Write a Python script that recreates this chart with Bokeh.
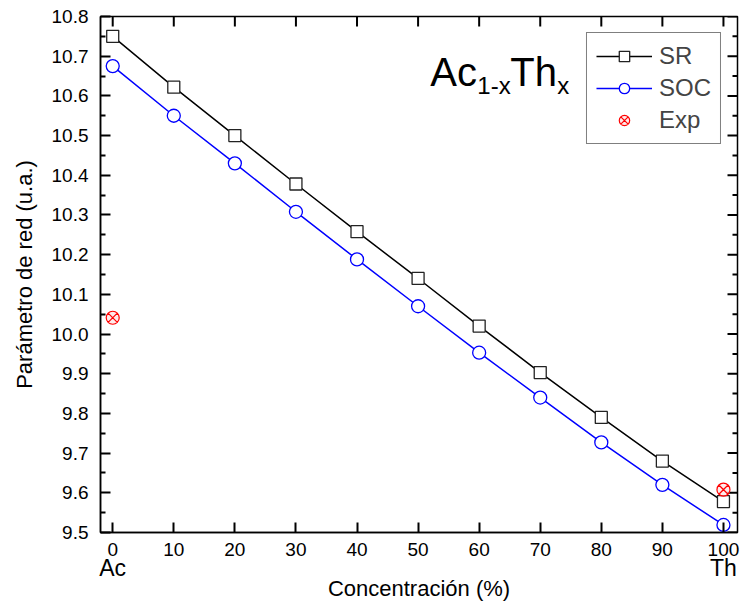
from bokeh.plotting import figure
from bokeh.models import (LinearAxis, FixedTicker, NumeralTickFormatter,
                          Legend, LegendItem, Range1d, ColumnDataSource)
from bokeh.core.properties import value
from bokeh.embed import file_html
from bokeh.resources import INLINE

# ---- data ----
conc = [0, 10, 20, 30, 40, 50, 60, 70, 80, 90, 100]
sr = [10.750, 10.622, 10.500, 10.378, 10.258, 10.140, 10.020, 9.903, 9.790, 9.680, 9.578]
soc = [10.675, 10.550, 10.430, 10.308, 10.188, 10.070, 9.953, 9.840, 9.727, 9.620, 9.519]
exp_x = [0, 100]
exp_y = [10.041, 9.608]
x_ticks = [0, 10, 20, 30, 40, 50, 60, 70, 80, 90, 100]
y_ticks = [9.5, 9.6, 9.7, 9.8, 9.9, 10.0, 10.1, 10.2, 10.3, 10.4, 10.5, 10.6, 10.7, 10.8]
elem_ticks = {0: "Ac", 100: "Th"}

FONT = "Liberation Sans"
X0, X1 = -2, 102.3
Y0, Y1 = 9.5, 10.8
W, H = 740, 607
BL, BR, BT, BB = 100, 3, 16, 75
FW, FH = W - BL - BR, H - BT - BB   # frame size in px

y_minor = [(a + b) / 2 for a, b in zip(y_ticks[:-1], y_ticks[1:])]

p = figure(width=W, height=H, output_backend="svg", toolbar_location=None,
           x_range=Range1d(X0, X1), y_range=Range1d(Y0, Y1),
           min_border_left=BL, min_border_right=BR, min_border_top=BT, min_border_bottom=BB)
p.grid.visible = False
p.outline_line_color = "black"
p.outline_line_width = 1.5

def style_axis(ax):
    ax.axis_line_width = 1.5
    ax.axis_line_color = "black"
    ax.major_tick_line_color = "black"
    ax.minor_tick_line_color = "black"
    ax.major_tick_line_width = 2
    ax.minor_tick_line_width = 2
    ax.major_tick_in = 10
    ax.major_tick_out = 0
    ax.minor_tick_in = 5
    ax.minor_tick_out = 0
    ax.major_label_text_font = FONT
    ax.major_label_text_font_size = "19px"
    ax.major_label_text_color = "black"

# bottom x axis (default axis)
xb = p.xaxis[0]
xb.ticker = FixedTicker(ticks=x_ticks)
style_axis(xb)
xb.major_label_standoff = 10

# left y axis (default axis)
yl = p.yaxis[0]
yl.ticker = FixedTicker(ticks=y_ticks, minor_ticks=y_minor)
yl.formatter = NumeralTickFormatter(format="0.0")
style_axis(yl)
yl.major_label_standoff = 12
yl.axis_label = "Parámetro de red (u.a.)"
yl.axis_label_text_font = FONT
yl.axis_label_text_font_size = "22px"
yl.axis_label_text_font_style = "normal"
yl.axis_label_text_color = "black"
yl.axis_label_standoff = 12

# second bottom axis for element names + label
xb2 = LinearAxis(ticker=FixedTicker(ticks=list(elem_ticks.keys())),
                 major_label_overrides=elem_ticks)
xb2.axis_line_color = None
xb2.major_tick_line_color = None
xb2.minor_tick_line_color = None
xb2.major_tick_in = 0
xb2.major_tick_out = 0
xb2.major_label_text_font = FONT
xb2.major_label_text_font_size = "23px"
xb2.major_label_text_color = "black"
xb2.major_label_standoff = -4
xb2.axis_label = "Concentración (%)"
xb2.axis_label_text_font = FONT
xb2.axis_label_text_font_size = "22px"
xb2.axis_label_text_font_style = "normal"
xb2.axis_label_text_color = "black"
xb2.axis_label_standoff = -8
p.add_layout(xb2, "below")

# inward ticks on top and right sides (mirrored)
dx_major = 10 * (X1 - X0) / FW
dx_minor = 5 * (X1 - X0) / FW
dy_major = 10 * (Y1 - Y0) / FH
tk = dict(line_color="black", line_width=2)
nx, ny, nm = len(x_ticks), len(y_ticks), len(y_minor)
p.segment(x0=x_ticks, y0=[Y1] * nx, x1=x_ticks, y1=[Y1 - dy_major] * nx, **tk)
p.segment(x0=[X1] * ny, y0=y_ticks, x1=[X1 - dx_major] * ny, y1=y_ticks, **tk)
p.segment(x0=[X1] * nm, y0=y_minor, x1=[X1 - dx_minor] * nm, y1=y_minor, **tk)

src = ColumnDataSource(dict(x=conc, sr=sr, soc=soc))
l_sr = p.line("x", "sr", source=src, line_color="black", line_width=1.5)
m_sr = p.scatter("x", "sr", source=src, marker="square", size=12,
                 line_color="#222222", line_width=1.3, fill_color="white")
l_soc = p.line("x", "soc", source=src, line_color="#0000ff", line_width=1.5)
m_soc = p.scatter("x", "soc", source=src, marker="circle", size=13,
                  line_color="#0000ff", line_width=1.3, fill_color="white")
m_exp = p.scatter(exp_x, exp_y, marker="circle_x", size=13,
                  line_color="#ff0000", line_width=1.2, fill_color="#ffdddd", fill_alpha=0.6)

legend = Legend(items=[
    LegendItem(label="SR", renderers=[l_sr, m_sr]),
    LegendItem(label="SOC", renderers=[l_soc, m_soc]),
    LegendItem(label="Exp", renderers=[m_exp]),
], location="top_right")
legend.margin = 16
legend.padding = 9
legend.spacing = 4
legend.glyph_width = 56
legend.glyph_height = 26
legend.label_height = 26
legend.label_standoff = 7
legend.label_text_font = FONT
legend.label_text_font_size = "24px"
legend.border_line_color = "black"
legend.border_line_width = 1
legend.background_fill_alpha = 1.0
p.add_layout(legend, "center")

# title Ac(1-x)Th(x)
p.text(x=[52.0], y=[10.659], text=["Ac"], text_font=value(FONT), text_font_size="40px",
       text_baseline="alphabetic", text_align="left", text_color="black")
p.text(x=[59.7], y=[10.626], text=["1-x"], text_font=value(FONT), text_font_size="24px",
       text_baseline="alphabetic", text_align="left", text_color="black")
p.text(x=[65.1], y=[10.659], text=["Th"], text_font=value(FONT), text_font_size="40px",
       text_baseline="alphabetic", text_align="left", text_color="black")
p.text(x=[72.8], y=[10.626], text=["x"], text_font=value(FONT), text_font_size="24px",
       text_baseline="alphabetic", text_align="left", text_color="black")

open("out.html", "w").write(file_html(p, INLINE))
